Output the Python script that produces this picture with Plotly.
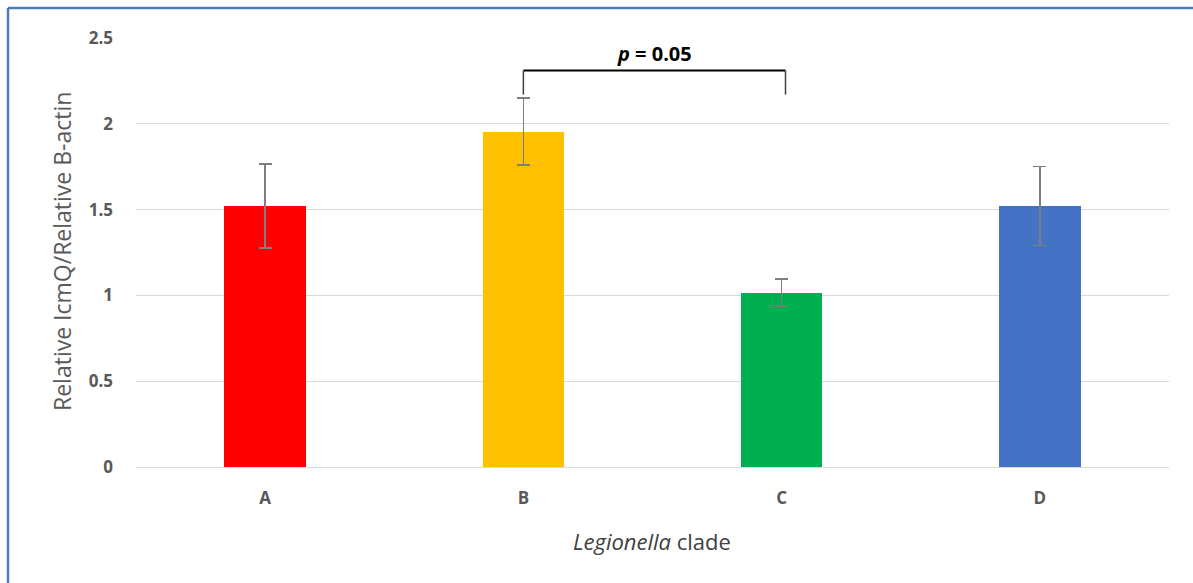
import plotly.graph_objects as go

categories = ["A", "B", "C", "D"]
values = [1.52, 1.955, 1.015, 1.52]
errors = [0.245, 0.195, 0.08, 0.23]
colors = ["#FF0000", "#FFC000", "#00B050", "#4472C4"]
y_ticks = [0, 0.5, 1, 1.5, 2, 2.5]
y_tick_labels = ["0", "0.5", "1", "1.5", "2", "2.5"]
bracket_left, bracket_right = 1, 2.015
bracket_top, bracket_bottom = 2.31, 2.17
p_label = "<i>p</i> = 0.05"
p_y = 2.41
y_title = "Relative IcmQ/Relative B-actin"
x_title = "<i>Legionella</i> clade"

W, H = 1193, 583
ml, mr, mt, mb = 136, 24, 38, 116
pw, ph = W - ml - mr, H - mt - mb

FONT = "Open Sans, Noto Sans, sans-serif"

fig = go.Figure()
fig.add_trace(go.Bar(
    x=categories, y=values, width=0.315,
    marker=dict(color=colors, line=dict(width=0)),
    error_y=dict(type="data", array=errors, visible=True,
                 color="#7f7f7f", thickness=1.5, width=6.5),
    showlegend=False,
))

fig.update_layout(
    width=W, height=H,
    margin=dict(l=ml, r=mr, t=mt, b=mb),
    paper_bgcolor="white", plot_bgcolor="white",
    bargap=0,
    xaxis=dict(
        type="category", range=[-0.5, 3.5],
        showgrid=False, showline=False, zeroline=False,
        tickfont=dict(family=FONT, size=17, color="#595959", weight="bold"),
        ticklabelstandoff=19,
    ),
    yaxis=dict(
        range=[0, 2.5], tickvals=y_ticks, ticktext=y_tick_labels,
        showgrid=True, gridcolor="#d9d9d9", gridwidth=1,
        zeroline=True, zerolinecolor="#d9d9d9", zerolinewidth=1,
        showline=False,
        tickfont=dict(family=FONT, size=17, color="#595959", weight="bold"),
        ticklabelstandoff=22,
    ),
)

# axis titles
fig.add_annotation(xref="paper", yref="paper", x=(62 - ml) / pw, y=(H - mb - 252) / ph,
                   text=y_title, textangle=-90, showarrow=False,
                   xanchor="center", yanchor="middle",
                   font=dict(family=FONT, size=23, color="#595959"))
fig.add_annotation(xref="paper", yref="paper", x=(652 - ml) / pw, y=-(541 - (H - mb)) / ph,
                   text=x_title, showarrow=False, xanchor="center", yanchor="middle",
                   font=dict(family=FONT, size=22, color="#404040"))

# significance bracket
fig.add_shape(type="line", xref="x", yref="y", x0=bracket_left, x1=bracket_right,
              y0=bracket_top, y1=bracket_top, line=dict(color="black", width=2))
fig.add_shape(type="line", xref="x", yref="y", x0=bracket_left, x1=bracket_left,
              y0=bracket_top, y1=bracket_bottom, line=dict(color="#404040", width=1.5))
fig.add_shape(type="line", xref="x", yref="y", x0=bracket_right, x1=bracket_right,
              y0=bracket_top, y1=bracket_bottom, line=dict(color="#404040", width=1.5))
fig.add_annotation(x=(bracket_left + bracket_right) / 2, y=p_y, xref="x", yref="y",
                   text=p_label, showarrow=False,
                   font=dict(family=FONT, size=20, color="black", weight="bold"))

# outer frame (top and left border lines)
bx = (8 - ml) / pw
by = 1 + (mt - 8) / ph
fig.add_shape(type="line", xref="paper", yref="paper", x0=bx, x1=(W - ml + 5) / pw,
              y0=by, y1=by, line=dict(color="#4A7EBB", width=2.5))
fig.add_shape(type="line", xref="paper", yref="paper", x0=bx, x1=bx,
              y0=by, y1=-(mb + 5) / ph, line=dict(color="#4A7EBB", width=2.5))

fig.write_html("out.html", config={"displayModeBar": False},
               post_script="document.body.style.margin='0px';")
